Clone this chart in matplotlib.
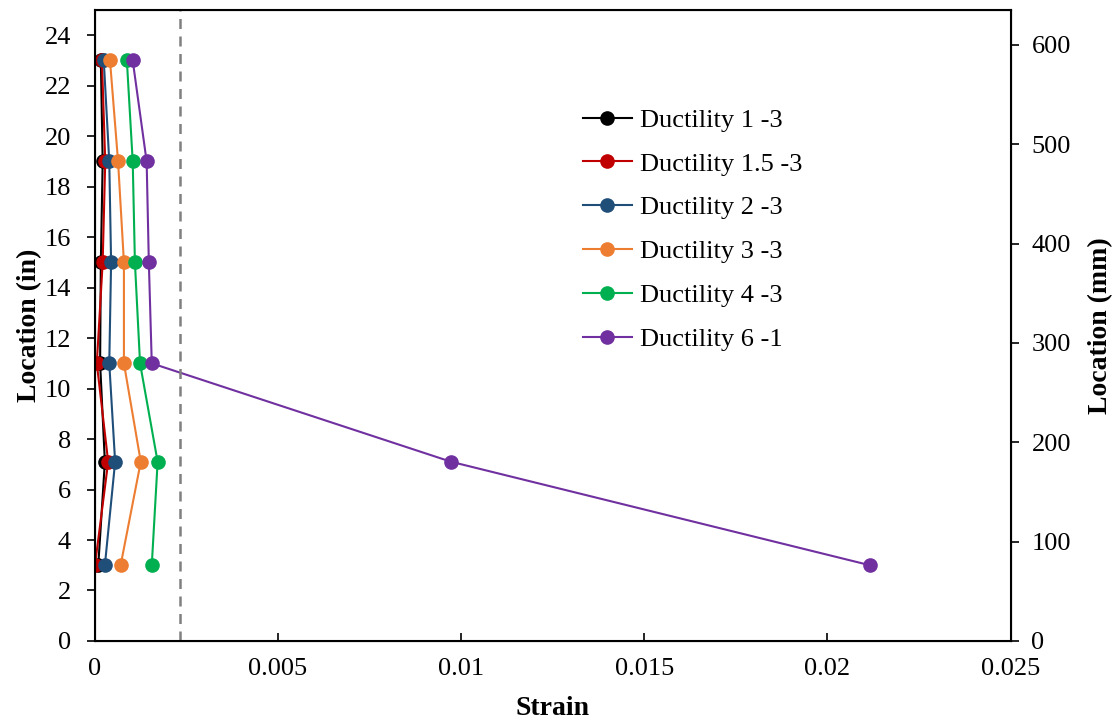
import matplotlib.pyplot as plt

# Location along the member (in)
loc_in = [23, 19, 15, 11, 7.1, 3]

# Strain readings per test
labels = ['Ductility 1 -3', 'Ductility 1.5 -3', 'Ductility 2 -3',
          'Ductility 3 -3', 'Ductility 4 -3', 'Ductility 6 -1']
strain_d1 = [0.00017, 0.00022, 0.00017, 0.00015, 0.00028, 0.00010]
strain_d15 = [0.00020, 0.00029, 0.00022, 0.00006, 0.00037, 0.00001]
strain_d2 = [0.00025, 0.00040, 0.00045, 0.00040, 0.00056, 0.00028]
strain_d3 = [0.00042, 0.00064, 0.00080, 0.00080, 0.00126, 0.00071]
strain_d4 = [0.00088, 0.00104, 0.00110, 0.00124, 0.00172, 0.00156]
strain_d6 = [0.00104, 0.00142, 0.00148, 0.00156, 0.00973, 0.02116]
colors = ['#000000', '#C00000', '#1F4E79', '#ED7D31', '#00B050', '#7030A0']

yield_strain = 0.00233

plt.rcParams['font.family'] = ['Liberation Serif', 'DejaVu Serif']

fig = plt.figure(figsize=(11.17, 7.25), dpi=100)
ax = fig.add_axes([0.0847, 0.1159, 0.8201, 0.8703])

all_strains = [strain_d1, strain_d15, strain_d2, strain_d3, strain_d4, strain_d6]
for s, lab, c in zip(all_strains, labels, colors):
    ax.plot(s, loc_in, '-o', color=c, label=lab, lw=1.5, markersize=9.5, markeredgecolor=c)

ax.axvline(yield_strain, color='#808080', ls=(0, (4, 3)), lw=1.8)

ax.set_xlim(0, 0.025)
ax.set_ylim(0, 25)
ax.set_xticks([0, 0.005, 0.01, 0.015, 0.02, 0.025])
ax.set_xticklabels(['0', '0.005', '0.01', '0.015', '0.02', '0.025'])
ax.set_yticks(range(0, 25, 2))
ax.tick_params(axis='x', direction='in', length=6, width=1.2, labelsize=19, pad=12)
ax.tick_params(axis='y', direction='out', length=6, width=1.2, labelsize=19, pad=11)
for sp in ax.spines.values():
    sp.set_linewidth(1.5)
ax.set_xlabel('Strain', fontsize=20, fontweight='bold', labelpad=12)
ax.set_ylabel('Location (in)', fontsize=20, fontweight='bold', labelpad=2)

ax2 = ax.twinx()
ax2.set_ylim(0, 635)
ax2.set_yticks(range(0, 601, 100))
ax2.tick_params(axis='y', direction='out', length=6, width=1.2, labelsize=19, pad=9)
ax2.set_ylabel('Location (mm)', fontsize=20, fontweight='bold', labelpad=12)

ax.legend(loc='upper left', bbox_to_anchor=(0.533, 0.844), frameon=False, fontsize=19,
          handlelength=1.85, handletextpad=0.3, labelspacing=0.77, borderaxespad=0,
          borderpad=0)

fig.savefig('out.png', dpi=100)
